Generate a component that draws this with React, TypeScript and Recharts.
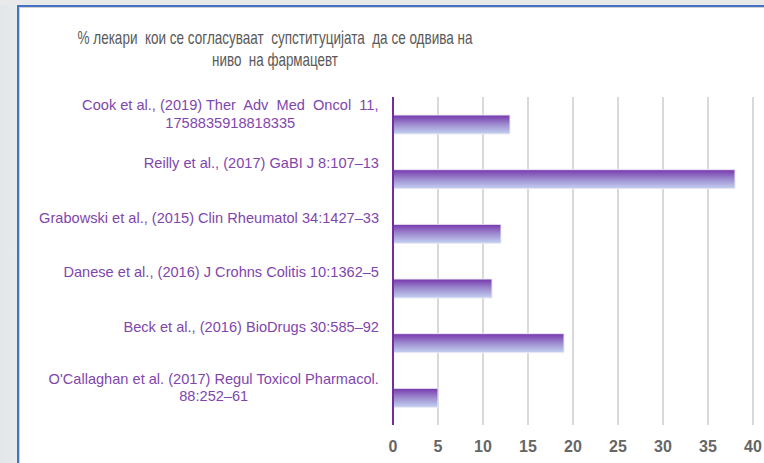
import React from "react";
import { BarChart, Bar, XAxis, YAxis, CartesianGrid } from "recharts";

const categories = [
  "Cook et al., (2019) Ther  Adv  Med  Oncol  11,\n1758835918818335",
  "Reilly et al., (2017) GaBI J 8:107–13",
  "Grabowski et al., (2015) Clin Rheumatol 34:1427–33",
  "Danese et al., (2016) J Crohns Colitis 10:1362–5",
  "Beck et al., (2016) BioDrugs 30:585–92",
  "O'Callaghan et al. (2017) Regul Toxicol Pharmacol.\n88:252–61",
];
const values = [13, 38, 12, 11, 19, 5];
const xTicks = [0, 5, 10, 15, 20, 25, 30, 35, 40];
const titleLines = [
  "% лекари  кои се согласуваат  супституцијата  да се одвива на",
  "ниво  на фармацевт",
];
const titleWidths = [395, 126];

const data = categories.map((c, i) => ({ name: c, value: values[i] }));

const LABEL_FONT = "14.6px 'Liberation Sans', Arial, sans-serif";
let ctx: CanvasRenderingContext2D | null = null;
function measure(t: string): number {
  if (!ctx) {
    const c = document.createElement("canvas");
    ctx = c.getContext("2d");
  }
  if (!ctx) return t.length * 7.2;
  ctx.font = LABEL_FONT;
  return ctx.measureText(t).width;
}

const YTick = (props: any) => {
  const { x, y, payload } = props;
  const lines = String(payload.value).split("\n");
  const right = x - 6;
  const widest = Math.max(...lines.map(measure));
  const multi = lines.length > 1;
  const cx = right - widest / 2;
  const first = y - 16 - (lines.length - 1) * 3;
  return (
    <g>
      {lines.map((l, i) => (
        <text
          key={i}
          x={multi ? cx : right}
          y={first + i * 17.5}
          dy="0.35em"
          textAnchor={multi ? "middle" : "end"}
          fill="#7f46ad"
          style={{ font: LABEL_FONT, whiteSpace: "pre" }}
        >
          {l}
        </text>
      ))}
    </g>
  );
};

export default function App() {
  return (
    <div
      style={{
        position: "fixed",
        left: 0,
        top: 0,
        width: 764,
        height: 463,
        overflow: "hidden",
        background: "linear-gradient(to right, #e2e6e8 0px, #e8ebec 17px)",
      }}
    >
      <div
        style={{
          position: "absolute",
          left: 0,
          top: 0,
          width: 764,
          height: 5,
          background: "#e9e9e9",
        }}
      />
      <div
        style={{
          position: "absolute",
          left: 17,
          top: 5,
          width: 800,
          height: 500,
          borderLeft: "2px solid #4472c4",
          borderTop: "2px solid #4472c4",
          background: "#ffffff",
          boxShadow: "inset 1px 1px 0 #d0d0d0",
        }}
      />
      <div
        style={{
          position: "absolute",
          left: 0,
          top: 0,
          width: 764,
          height: 463,
        }}
      >
        <svg
          width={764}
          height={90}
          style={{ position: "absolute", left: 0, top: 0 }}
        >
          {titleLines.map((t, i) => (
            <text
              key={i}
              x={275}
              y={44 + i * 22}
              textAnchor="middle"
              fill="#595959"
              textLength={titleWidths[i]}
              lengthAdjust="spacingAndGlyphs"
              style={{
                font: "19px 'Liberation Sans', Arial, sans-serif",
                whiteSpace: "pre",
              }}
            >
              {t}
            </text>
          ))}
        </svg>
        <div style={{ position: "absolute", left: 0, top: 0 }}>
          <BarChart
            width={764}
            height={463}
            data={data}
            layout="vertical"
            margin={{ top: 97, right: 11, bottom: 0, left: 0 }}
          >
            <defs>
              <linearGradient id="barGrad" x1="0" y1="0" x2="0" y2="1">
                <stop offset="0%" stopColor="#7536ad" />
                <stop offset="45%" stopColor="#9a84cc" />
                <stop offset="100%" stopColor="#c3d3f1" />
              </linearGradient>
            </defs>
            <CartesianGrid
              horizontal={false}
              vertical={true}
              stroke="#d9d9d9"
              strokeWidth={2}
            />
            <XAxis
              type="number"
              domain={[0, 40]}
              ticks={xTicks}
              axisLine={false}
              tickLine={false}
              tickMargin={10}
              tick={{
                fill: "#666666",
                fontSize: 16,
                fontWeight: "bold",
                fontFamily: "'Liberation Sans', Arial, sans-serif",
              }}
              height={38}
            />
            <YAxis
              type="category"
              dataKey="name"
              width={393}
              axisLine={{ stroke: "#7030a0", strokeWidth: 2 }}
              tickLine={false}
              tick={<YTick />}
              interval={0}
            />
            <Bar
              dataKey="value"
              fill="url(#barGrad)"
              stroke="#ece8f6"
              strokeWidth={1}
              barSize={19}
              isAnimationActive={false}
            />
          </BarChart>
        </div>
      </div>
    </div>
  );
}
